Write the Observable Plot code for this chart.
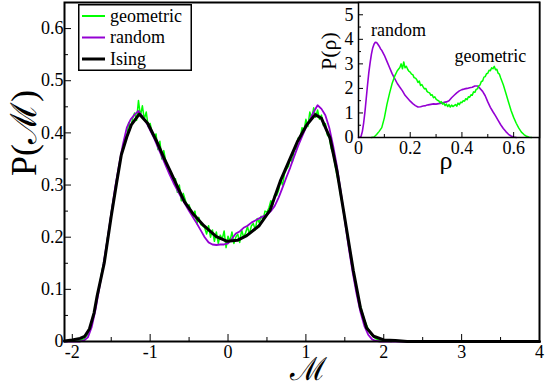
<!DOCTYPE html>
<html><head><meta charset="utf-8">
<script src="https://cdn.jsdelivr.net/npm/d3@7"></script>
<script src="https://cdn.jsdelivr.net/npm/@observablehq/plot@0.6"></script>
<style>
body{margin:0;background:#fff;}
#wrap{position:relative;width:545px;height:385px;}
#inset{position:absolute;left:300px;top:0;}
#legend{position:absolute;left:78px;top:4px;}
svg text{font-family:"Liberation Serif","Times New Roman",Tinos,"DejaVu Serif",serif !important;}
</style></head><body><div id="wrap"><div id="main"></div><div id="inset"></div><svg id="legend" width="114" height="67"></svg></div>
<script>
// ---- main panel data: P(M) vs M ----
const ising = [[-2.1,0.001],[-2.0,0.003],[-1.9,0.006],[-1.84,0.010],[-1.78,0.024],[-1.72,0.055],[-1.68,0.088],[-1.59,0.15],[-1.5,0.24],[-1.43,0.305],[-1.37,0.358],[-1.30,0.392],[-1.24,0.416],[-1.14,0.436],[-1.03,0.418],[-0.92,0.385],[-0.82,0.351],[-0.74,0.326],[-0.65,0.297],[-0.56,0.268],[-0.45,0.245],[-0.31,0.222],[-0.15,0.201],[-0.01,0.192],[0.12,0.194],[0.24,0.203],[0.4,0.222],[0.54,0.252],[0.67,0.307],[0.78,0.345],[0.89,0.383],[1.01,0.415],[1.12,0.435],[1.2,0.428],[1.31,0.39],[1.40,0.326],[1.49,0.245],[1.61,0.135],[1.70,0.065],[1.78,0.026],[1.87,0.010],[2.0,0.003],[2.15,0.002],[2.3,0.0],[4,0]];
const random = [[-2.1,0],[-1.9,0],[-1.85,0.002],[-1.8,0.008],[-1.75,0.028],[-1.7,0.062],[-1.65,0.105],[-1.6,0.148],[-1.55,0.195],[-1.5,0.245],[-1.45,0.295],[-1.4,0.338],[-1.35,0.378],[-1.3,0.41],[-1.25,0.426],[-1.2,0.435],[-1.15,0.442],[-1.1,0.432],[-1.05,0.42],[-1.0,0.405],[-0.95,0.39],[-0.9,0.372],[-0.85,0.355],[-0.8,0.337],[-0.75,0.32],[-0.7,0.304],[-0.65,0.29],[-0.6,0.276],[-0.55,0.263],[-0.5,0.25],[-0.45,0.238],[-0.4,0.226],[-0.35,0.213],[-0.3,0.2],[-0.25,0.19],[-0.2,0.186],[-0.15,0.185],[-0.1,0.186],[-0.05,0.186],[0,0.188],[0.05,0.197],[0.1,0.207],[0.15,0.211],[0.2,0.218],[0.25,0.222],[0.3,0.228],[0.35,0.232],[0.4,0.236],[0.45,0.24],[0.5,0.243],[0.55,0.25],[0.6,0.26],[0.65,0.276],[0.7,0.295],[0.75,0.315],[0.8,0.334],[0.85,0.355],[0.9,0.375],[0.95,0.393],[1.0,0.41],[1.05,0.425],[1.1,0.44],[1.15,0.453],[1.2,0.446],[1.25,0.434],[1.3,0.41],[1.35,0.375],[1.4,0.335],[1.45,0.285],[1.5,0.232],[1.55,0.18],[1.6,0.133],[1.65,0.092],[1.7,0.057],[1.75,0.03],[1.8,0.013],[1.85,0.004],[1.9,0.001],[1.95,0],[4,0]];
const geometric = [[-2.1,0],[-1.95,0.001],[-1.9,0.002],[-1.85,0.005],[-1.8,0.014],[-1.75,0.034],[-1.7,0.068],[-1.65,0.108],[-1.625,0.13],
[-1.6,0.15],[-1.575,0.168],[-1.55,0.197],[-1.525,0.218],[-1.5,0.246],[-1.475,0.27],[-1.45,0.288],[-1.425,0.316],[-1.4,0.335],[-1.375,0.355],[-1.35,0.368],[-1.325,0.39],[-1.3,0.394],[-1.275,0.42],[-1.25,0.41],[-1.225,0.428],[-1.2,0.438],[-1.175,0.424],[-1.15,0.462],[-1.125,0.432],[-1.1,0.452],[-1.075,0.426],[-1.05,0.44],[-1.025,0.412],[-1.0,0.418],[-0.975,0.4],[-0.95,0.392],[-0.925,0.398],[-0.9,0.368],[-0.875,0.384],[-0.85,0.35],[-0.825,0.366],[-0.8,0.346],[-0.775,0.336],[-0.75,0.33],[-0.725,0.316],[-0.7,0.31],[-0.675,0.312],[-0.65,0.286],[-0.625,0.3],[-0.6,0.27],[-0.575,0.284],[-0.55,0.272],[-0.525,0.258],[-0.5,0.262],[-0.475,0.25],[-0.45,0.24],[-0.425,0.25],[-0.4,0.226],[-0.375,0.238],[-0.35,0.224],[-0.325,0.222],[-0.3,0.218],[-0.275,0.206],[-0.25,0.222],[-0.225,0.2],[-0.2,0.214],[-0.175,0.192],[-0.15,0.21],[-0.125,0.188],[-0.1,0.204],[-0.075,0.196],[-0.05,0.212],[-0.025,0.18],[0,0.202],[0.025,0.192],[0.05,0.21],[0.075,0.188],[0.1,0.2],[0.125,0.206],[0.15,0.19],[0.175,0.214],[0.2,0.2],[0.225,0.208],[0.25,0.22],[0.275,0.206],[0.3,0.222],[0.325,0.226],[0.35,0.214],[0.375,0.236],[0.4,0.228],[0.425,0.24],[0.45,0.234],[0.475,0.25],[0.5,0.248],[0.525,0.256],[0.55,0.27],[0.575,0.262],[0.6,0.282],[0.625,0.28],[0.65,0.29],[0.675,0.31],[0.7,0.3],[0.725,0.322],[0.75,0.33],[0.775,0.336],[0.8,0.352],[0.825,0.344],[0.85,0.37],[0.875,0.368],[0.9,0.39],[0.925,0.388],[0.95,0.41],[0.975,0.404],[1.0,0.426],[1.025,0.412],[1.05,0.44],[1.075,0.428],[1.1,0.448],[1.125,0.43],[1.15,0.444],[1.175,0.426],[1.2,0.434],[1.225,0.414],[1.25,0.418],[1.275,0.396],[1.3,0.392],[1.325,0.37],[1.35,0.36],[1.375,0.338],[1.4,0.318],[1.425,0.302],[1.45,0.276],[1.475,0.26],[1.5,0.234],[1.525,0.214],[1.55,0.19],[1.575,0.168],[1.6,0.145],
[1.625,0.122],[1.65,0.1],[1.7,0.068],[1.75,0.042],[1.8,0.024],[1.85,0.012],[1.9,0.005],[1.95,0.002],[2.0,0.001],[2.1,0]];
const xMajor = [-2, -1, 0, 1, 2, 3, 4];
const xMinor = [-1.5, -0.5, 0.5, 1.5, 2.5, 3.5];
const yMajor = [0, 0.1, 0.2, 0.3, 0.4, 0.5, 0.6];
const yMinor = [0.05, 0.15, 0.25, 0.35, 0.45, 0.55];

// ---- inset data: P(rho) vs rho ----
const rhoRandom = [[0,0],[0.005,0.01],[0.01,0.05],[0.015,0.25],[0.02,0.6],[0.025,1.05],[0.03,1.6],[0.035,2.15],[0.04,2.65],[0.045,3.05],[0.05,3.4],[0.055,3.65],[0.06,3.8],[0.065,3.88],[0.07,3.87],[0.075,3.8],[0.08,3.72],[0.085,3.62],[0.09,3.55],[0.1,3.35],[0.11,3.1],[0.12,2.85],[0.13,2.6],[0.14,2.4],[0.15,2.2],[0.16,2.05],[0.17,1.9],[0.18,1.72],[0.19,1.6],[0.2,1.48],[0.21,1.38],[0.22,1.3],[0.23,1.24],[0.24,1.25],[0.25,1.28],[0.26,1.3],[0.27,1.33],[0.28,1.35],[0.29,1.37],[0.3,1.36],[0.31,1.38],[0.32,1.4],[0.33,1.43],[0.34,1.45],[0.35,1.5],[0.36,1.62],[0.37,1.72],[0.38,1.82],[0.39,1.9],[0.4,1.95],[0.41,1.98],[0.42,2.0],[0.43,2.03],[0.44,2.05],[0.45,2.1],[0.46,2.1],[0.47,2.0],[0.48,1.88],[0.49,1.7],[0.5,1.45],[0.51,1.23],[0.52,1.05],[0.53,0.88],[0.54,0.7],[0.55,0.52],[0.56,0.37],[0.57,0.24],[0.58,0.13],[0.59,0.06],[0.6,0.02],[0.61,0]];
const rhoGeometric = [[0.05,0],[0.06,0.02],[0.07,0.12],[0.08,0.25],[0.09,0.4],[0.1,0.8],[0.11,1.35],[0.12,1.8],[0.13,2.2],[0.14,2.5],[0.15,2.72],[0.16,2.85],[0.165,3.0],[0.17,2.8],[0.175,3.08],[0.18,2.84],[0.185,2.9],[0.19,2.78],[0.195,2.7],[0.2,2.66],[0.205,2.58],[0.21,2.56],[0.215,2.44],[0.22,2.42],[0.225,2.36],[0.23,2.24],[0.235,2.3],[0.24,2.12],[0.245,2.16],[0.25,2.06],[0.255,1.98],[0.26,2.0],[0.265,1.88],[0.27,1.84],[0.275,1.82],[0.28,1.72],[0.285,1.74],[0.29,1.62],[0.295,1.66],[0.3,1.56],[0.305,1.52],[0.31,1.5],[0.315,1.42],[0.32,1.46],[0.325,1.36],[0.33,1.4],[0.335,1.3],[0.34,1.36],[0.345,1.26],[0.35,1.34],[0.355,1.24],[0.36,1.32],[0.365,1.26],[0.37,1.3],[0.375,1.34],[0.38,1.28],[0.385,1.4],[0.39,1.34],[0.395,1.44],[0.4,1.42],[0.405,1.5],[0.41,1.48],[0.415,1.58],[0.42,1.54],[0.425,1.66],[0.43,1.64],[0.435,1.74],[0.44,1.72],[0.445,1.86],[0.45,1.84],[0.455,1.96],[0.46,1.98],[0.465,2.1],[0.47,2.14],[0.475,2.28],[0.48,2.3],[0.485,2.46],[0.49,2.48],[0.495,2.6],[0.5,2.62],[0.505,2.74],[0.51,2.72],[0.515,2.84],[0.52,2.8],[0.525,2.9],[0.53,2.76],[0.535,2.78],[0.54,2.62],[0.545,2.58],[0.55,2.42],[0.56,2.15],[0.57,1.8],[0.58,1.45],[0.59,1.1],[0.6,0.82],[0.61,0.58],[0.62,0.38],[0.63,0.22],[0.64,0.12],[0.65,0.05],[0.66,0.01],[0.67,0]];
const rhoMajor = [0, 0.2, 0.4, 0.6];
const rhoMinor = [0.1, 0.3, 0.5];
const pMajor = [0, 1, 2, 3, 4, 5];
const pMinor = [0.5, 1.5, 2.5, 3.5, 4.5];
const insetNotes = [{text: "random", rho: 0.155, p: 4.35}, {text: "geometric", rho: 0.51, p: 3.33}];

const legendItems = [{label: "geometric", color: "#00ff00", width: 2}, {label: "random", color: "#9400d3", width: 2}, {label: "Ising", color: "#000000", width: 3}];

const GREEN = "#00ff00", PURPLE = "#9400d3";
const font = "'Liberation Serif', 'Times New Roman', Tinos, 'DejaVu Serif', serif";

const main = Plot.plot({
  width: 545, height: 385,
  marginLeft: 64, marginRight: 6, marginTop: 2, marginBottom: 44,
  style: {fontFamily: font, fontSize: "18px", color: "#000", background: "transparent", overflow: "visible"},
  x: {domain: [-2.1, 4]},
  y: {domain: [0, 0.65]},
  marks: [
    Plot.line(geometric, {x: d => d[0], y: d => d[1], stroke: GREEN, strokeWidth: 1.5}),
    Plot.line(random, {x: d => d[0], y: d => d[1], stroke: PURPLE, strokeWidth: 1.8}),
    Plot.line(ising, {x: d => d[0], y: d => d[1], stroke: "#000", strokeWidth: 3}),
    Plot.axisX({ticks: xMajor, tickSize: -7, tickPadding: 11, tickFormat: d => String(d), label: null, fontSize: 18}),
    Plot.axisX({ticks: xMinor, tickSize: -4, tickFormat: () => "", label: null}),
    Plot.axisY({ticks: yMajor, tickSize: -7, tickPadding: 8, tickFormat: d => String(d), label: null, fontSize: 18}),
    Plot.axisY({ticks: yMinor, tickSize: -4, tickFormat: () => "", label: null}),
    Plot.frame({stroke: "#000", strokeWidth: 2}),
    Plot.text(["P(ℳ)"], {frameAnchor: "left", dx: -40, dy: 4, rotate: -90, fontSize: 36}),
    Plot.text(["ℳ"], {frameAnchor: "bottom", dx: 6, dy: 38, lineAnchor: "bottom", fontSize: 32})
  ]
});
document.getElementById("main").appendChild(main);

const inset = Plot.plot({
  width: 245, height: 180,
  marginLeft: 58, marginRight: 6, marginTop: 2, marginBottom: 43,
  style: {fontFamily: font, fontSize: "17px", color: "#000", background: "transparent", overflow: "visible"},
  x: {domain: [0, 0.7]},
  y: {domain: [0, 5.5]},
  marks: [
    Plot.frame({fill: "#fff", stroke: null}),
    Plot.line(rhoRandom, {x: d => d[0], y: d => d[1], stroke: PURPLE, strokeWidth: 1.6}),
    Plot.line(rhoGeometric, {x: d => d[0], y: d => d[1], stroke: GREEN, strokeWidth: 1.5}),
    Plot.text(insetNotes, {x: "rho", y: "p", text: "text", fontSize: 18}),
    Plot.axisX({ticks: rhoMajor, tickSize: -5, tickPadding: 9, tickFormat: d => String(d), label: null, fontSize: 18}),
    Plot.axisX({ticks: rhoMinor, tickSize: -3, tickFormat: () => "", label: null}),
    Plot.axisY({ticks: pMajor, tickSize: -5, tickPadding: 10, tickFormat: d => String(d), label: null, fontSize: 18}),
    Plot.axisY({ticks: pMinor, tickSize: -3, tickFormat: () => "", label: null}),
    Plot.frame({stroke: "#000", strokeWidth: 1.5}),
    Plot.text(["P(ρ)"], {frameAnchor: "left", dx: -30, rotate: -90, fontSize: 22}),
    Plot.text(["ρ"], {frameAnchor: "bottom", dx: -3, dy: 31, fontSize: 26})
  ]
});
document.getElementById("inset").appendChild(inset);

// legend (inside the main panel, as in the original)
const lg = d3.select("#legend");
lg.append("rect").attr("x", 0.75).attr("y", 0.75).attr("width", 112.5).attr("height", 65.5).attr("fill", "#fff").attr("stroke", "#000").attr("stroke-width", 1.5);
legendItems.forEach((d, i) => {
  const yy = 12 + i * 21.5;
  lg.append("line").attr("x1", 4).attr("x2", 27).attr("y1", yy).attr("y2", yy).attr("stroke", d.color).attr("stroke-width", d.width);
  lg.append("text").attr("x", 32).attr("y", yy + 5.5).attr("font-size", 18).text(d.label);
});
</script></body></html>
